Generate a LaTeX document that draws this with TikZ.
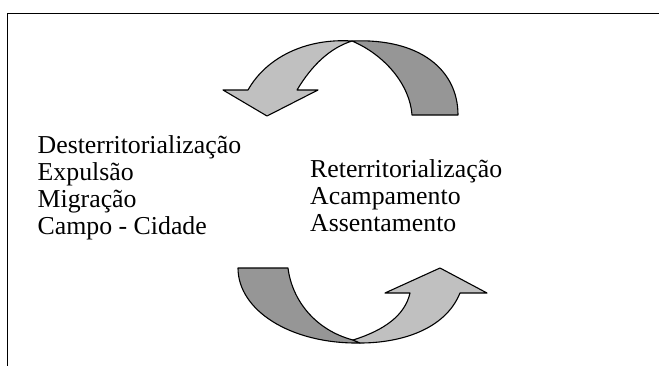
\documentclass[tikz,border=0pt]{standalone}
\usepackage{fontspec}
\setmainfont{Liberation Serif}
\definecolor{lightg}{RGB}{192,192,192}
\definecolor{darkg}{RGB}{150,150,150}
\begin{document}
\begin{tikzpicture}[x=1pt,y=-1pt,
  band/.style={draw=black,line width=1.1pt,line join=round},
  lbl/.style={anchor=base west,inner sep=0pt,font=\fontsize{25.8}{27.3}\selectfont}]
\useasboundingbox (0,0) rectangle (659,365);
% frame
\draw[line width=1.9pt] (7.5,366) -- (7.5,13.5) -- (660,13.5);
% top curved arrow
\draw[band,fill=darkg] (352,41) .. controls (420,38) and (458,70) .. (458,115)
  -- (412,115) .. controls (410,85) and (385,55) .. (352,41) -- cycle;
\draw[band,fill=lightg] (223,90) -- (267,116) -- (318,90) -- (297,90)
  .. controls (312,65) and (330,48) .. (352,41)
  .. controls (305,38) and (266,58) .. (248,90) -- cycle;
% bottom curved arrow
\draw[band,fill=darkg] (238,268) -- (288,268) .. controls (292,300) and (315,330) .. (353,340)
  -- (360,343) .. controls (290,344) and (238,310) .. (238,268) -- cycle;
\draw[band,fill=lightg] (353,340) .. controls (385,330) and (405,315) .. (410,293)
  -- (385,293) -- (440,268) -- (487,293) -- (460,293)
  .. controls (445,330) and (400,343) .. (360,343) -- cycle;
% texts
\node[lbl] (l1) at (37.5,153) {Desterritorialização};
\node[lbl] (l2) at (37.5,180.3) {Expulsão};
\node[lbl] (l3) at (37.5,207.6) {Migração};
\node[lbl] (l4) at (37.5,234.9) {Campo - Cidade};
\node[lbl] (r1) at (310,177) {Reterritorialização};
\node[lbl] (r2) at (310,204.3) {Acampamento};
\node[lbl] (r3) at (310,231.6) {Assentamento};
\end{tikzpicture}
\end{document}
